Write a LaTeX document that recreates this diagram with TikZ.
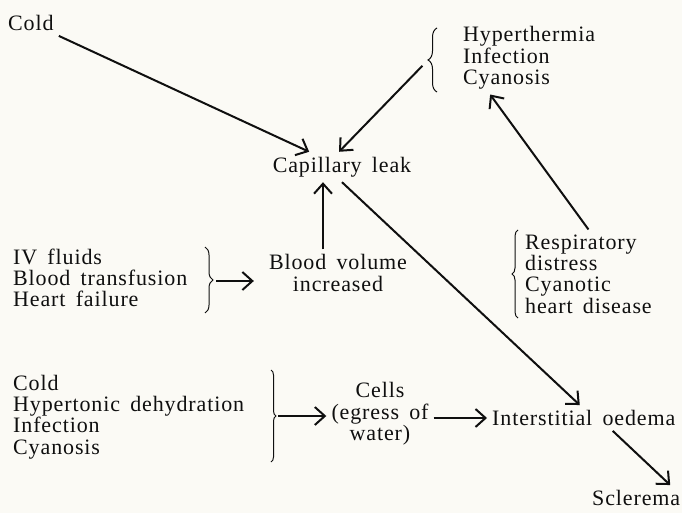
\documentclass[tikz,border=0pt]{standalone}
\usepackage{fontspec}
\setmainfont[LetterSpace=4,WordSpace=1.6]{Liberation Serif}
\usetikzlibrary{arrows.meta,decorations.pathreplacing}
\definecolor{paper}{RGB}{251,250,245}
\definecolor{ink}{RGB}{15,15,15}

\begin{document}
\begin{tikzpicture}[x=1pt,y=-1pt,
  txt/.style={font=\fontsize{22}{21.3}\selectfont,text=ink,inner sep=5pt,align=left},
  arr/.style={draw=ink,line width=2pt,-{Straight Barb[length=10pt,width=18pt]}},
  brc/.style={draw=ink,line width=1pt,decorate,decoration={brace,amplitude=#1}}]
\fill[paper] (0,0) rectangle (682,513);
\useasboundingbox (0,0) rectangle (682,513);

\node[txt,anchor=west] (cold) at (3,23) {Cold};
\node[txt,anchor=west] (hyper) at (458,58) {Hyperthermia\\Infection\\Cyanosis};
\node[txt] (cap) at (342,167) {Capillary leak};
\node[txt,anchor=west] (iv) at (8,278) {IV fluids\\Blood transfusion\\Heart failure};
\node[txt,align=center] (blood) at (338,273) {Blood volume\\increased};
\node[txt,anchor=west] (resp) at (520,274) {Respiratory\\distress\\Cyanotic\\heart disease};
\node[txt,anchor=west] (causes) at (8,417) {Cold\\Hypertonic dehydration\\Infection\\Cyanosis};
\node[txt,align=center] (cells) at (380,414) {Cells\\(egress of\\water)};
\node[txt,anchor=west] (inter) at (487,418) {Interstitial oedema};
\node[txt,anchor=west] (scler) at (587,498) {Sclerema};

\draw[brc=9] (437,92) -- (437,28);
\draw[brc=8] (205,247) -- (205,313);
\draw[brc=6] (518,318) -- (518,230);
\draw[brc=5] (271,370) -- (271,462);
\coordinate (ht) at (428,60);
\coordinate (ivt) at (213,281);
\coordinate (rt) at (512,274);
\coordinate (ct) at (276,416);

\draw[arr] (cold) -- (cap);
\draw[arr,shorten <=8pt] (ht) -- ([xshift=-3pt]cap.north);
\draw[arr] ([xshift=-15pt]blood.north) -- ([xshift=-15pt]blood.north |- cap.south);
\draw[arr] (cap.south) -- ([xshift=-4pt]inter.north);
\draw[arr] (resp.north) -- ([xshift=-39pt]hyper.south);
\draw[arr,shorten <=3pt,shorten >=10pt] (ivt) -- (ivt -| blood.west);
\draw[arr,shorten <=2pt] (ct) -- (ct -| cells.west);
\draw[arr] (cells.east |- inter.west) -- (inter.west);
\draw[arr] ([xshift=29pt]inter.south) -- ([xshift=34pt]scler.north);
\end{tikzpicture}
\end{document}
